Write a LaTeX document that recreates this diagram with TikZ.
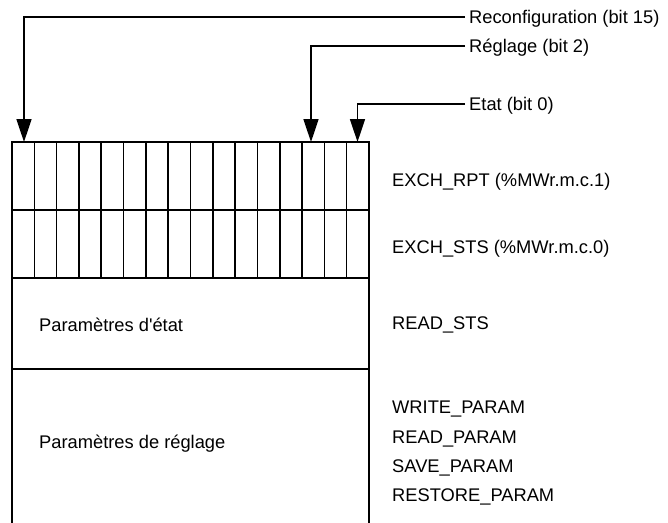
\documentclass[tikz,border=0pt]{standalone}
\usepackage{fontspec}
\setmainfont{Liberation Sans}
\usetikzlibrary{arrows.meta}
\begin{document}
\begin{tikzpicture}[x=1pt,y=-1pt,
  lbl/.style={font=\fontsize{18.3}{22}\selectfont, inner sep=0pt, text height=13.1pt, text depth=0pt, anchor=west},
  gridline/.style={line width=1.6pt, line cap=rect},
  arr/.style={line width=1.6pt, -{Triangle[length=23pt,width=15pt]}}]
\useasboundingbox (0,0) rectangle (668,522);
% memory block
\def\L{12}\def\R{369}
\draw[gridline] (\L,522) -- (\L,142) -- (\R,142) -- (\R,522);
\draw[gridline] (\L,210) -- (\R,210);
\draw[gridline] (\L,278) -- (\R,278);
\draw[gridline] (\L,369) -- (\R,369);
\foreach \i in {1,...,15}{
  \draw[gridline] ({\L+\i*(\R-\L)/16},142) -- ({\L+\i*(\R-\L)/16},278);
}
% bit targets
\coordinate (b15) at (24,142);
\coordinate (b2) at (311,142);
\coordinate (b0) at (357.5,142);
% labels top
\node[lbl] (l15) at (469,17) {Reconfiguration (bit 15)};
\node[lbl] (l2) at (469,46) {Réglage (bit 2)};
\node[lbl] (l0) at (469,104) {Etat (bit 0)};
\draw[arr] ([xshift=-4pt]l15.west) -| (b15);
\draw[arr] ([xshift=-4pt]l2.west) -| (b2);
\draw[arr] ([xshift=-4pt]l0.west) -| (b0);
% right labels
\node[lbl] (rpt) at (392,180) {EXCH\_RPT (\%MWr.m.c.1)};
\node[lbl] (sts) at (392,246.7) {EXCH\_STS (\%MWr.m.c.0)};
\node[lbl] (rsts) at (392,323) {READ\_STS};
\node[lbl] (wp) at (392,407) {WRITE\_PARAM};
\node[lbl] (rp) at (392,436.5) {READ\_PARAM};
\node[lbl] (sp) at (392,465.5) {SAVE\_PARAM};
\node[lbl] (rsp) at (392,495) {RESTORE\_PARAM};
% left labels
\node[lbl] (pe) at (39,324.7) {Paramètres d\textquotesingle état};
\node[lbl] (pr) at (39,442.3) {Paramètres de réglage};
\end{tikzpicture}
\end{document}
